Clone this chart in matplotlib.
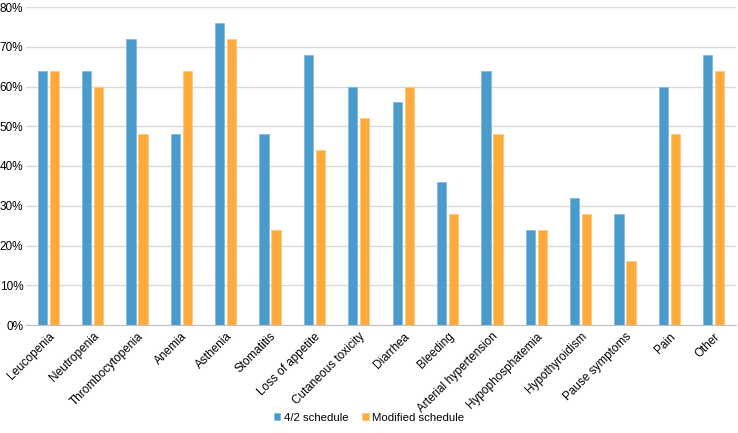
import matplotlib

matplotlib.use("Agg")
import matplotlib.pyplot as plt
import numpy as np
from matplotlib.ticker import PercentFormatter

categories = ["Leucopenia", "Neutropenia", "Thrombocytopenia", "Anemia", "Asthenia",
              "Stomatitis", "Loss of appetite", "Cutaneous toxicity", "Diarrhea",
              "Bleeding", "Arterial hypertension", "Hypophosphatemia", "Hypothyroidism",
              "Pause symptoms", "Pain", "Other"]
schedule_42 = [64, 64, 72, 48, 76, 48, 68, 60, 56, 36, 64, 24, 32, 28, 60, 68]
modified = [64, 60, 48, 64, 72, 24, 44, 52, 60, 28, 48, 24, 28, 16, 48, 64]

plt.rcParams["font.family"] = ["Liberation Sans", "DejaVu Sans"]

fig = plt.figure(figsize=(7.38, 4.33), dpi=100)
ax = fig.add_axes([26 / 738, 1 - 325 / 433, 710 / 738, 318 / 433])

x = np.arange(len(categories))
w = 0.21
off = 0.135
ax.bar(x - off, schedule_42, w, color="#4A9BCB", edgecolor="#7FBCE0", linewidth=0.6,
       label="4/2 schedule", zorder=3)
ax.bar(x + off, modified, w, color="#FFAA3C", edgecolor="#FFC77A", linewidth=0.6,
       label="Modified schedule", zorder=3)

ax.set_xlim(-0.5, len(categories) - 0.5)
ax.set_ylim(0, 80)
ax.set_yticks(range(0, 81, 10))
ax.yaxis.set_major_formatter(PercentFormatter(decimals=0))
ax.grid(axis="y", color="#D9D9D9", linewidth=1, zorder=0)
for s in ("top", "right", "left"):
    ax.spines[s].set_visible(False)
ax.spines["bottom"].set_color("#BFBFBF")
ax.spines["bottom"].set_zorder(4)
ax.tick_params(axis="both", length=0, labelsize=8.5, colors="black")
ax.tick_params(axis="y", pad=2)
ax.set_xticks(x)
ax.set_xticklabels(categories, rotation=45, ha="right", rotation_mode="anchor")
ax.tick_params(axis="x", pad=4)

fig.legend(loc="lower center", bbox_to_anchor=(0.5, 0.0), ncol=2, frameon=False,
           fontsize=8.2, handlelength=0.6, handleheight=0.6, handletextpad=0.3,
           columnspacing=1.2)

fig.savefig("out.png", dpi=100)
